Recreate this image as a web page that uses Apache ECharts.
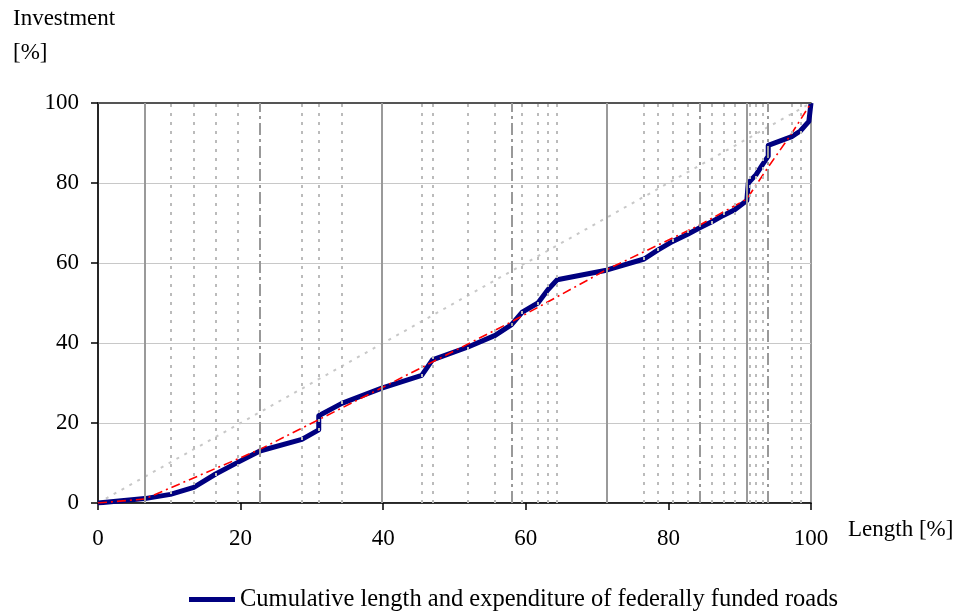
<!DOCTYPE html>
<html>
<head>
<meta charset="utf-8">
<script src="https://cdn.jsdelivr.net/npm/echarts@6/dist/echarts.min.js"></script>
<style>
  html, body { margin: 0; padding: 0; background: #fff; }
  #main { width: 964px; height: 611px; }
</style>
</head>
<body>
<div id="main"></div>
<script>
// cumulative length [%] / investment [%] of the roads (thick blue curve)
var roadLength = [0, 6.55, 10.16, 13.43, 16.5, 19.6, 22.7, 28.6, 30.96, 30.96, 34.2, 39.8,
  45.4, 46.9, 51.9, 55.7, 58.0, 59.5, 61.7, 63.1, 64.4, 71.3, 76.6, 78.5, 80.6, 82.7,
  84.4, 86.1, 87.7, 89.3, 91.0, 91.2, 92.3, 93.2, 94.0, 94.0, 97.3, 98.5, 99.7, 100];
var roadInvest = [0, 1.1, 2.15, 3.9, 7.25, 10.15, 13.0, 15.9, 18.3, 21.8, 24.9, 28.7,
  31.9, 35.8, 39.0, 41.9, 44.6, 47.7, 50.0, 53.3, 55.8, 58.2, 61.0, 63.2, 65.4, 67.2,
  68.8, 70.3, 71.9, 73.3, 75.6, 80.0, 82.1, 84.6, 86.7, 89.4, 91.6, 93.0, 95.4, 100];

// red dash-dot curve
var redLength = [0, 6.55, 22.7, 39.8, 58.0, 71.3, 84.4, 91.0, 94.0, 97.3, 100];
var redInvest = [0, 1.0, 13.4, 28.8, 45.3, 58.3, 69.5, 76.0, 84.0, 92.4, 100];

// equal distribution line
var diagLength = [0, 100];
var diagInvest = [0, 100];

// vertical reference lines (x positions)
var solidLines = [6.55, 39.8, 71.3, 91.0];
var dashDotLines = [22.7, 58.0, 84.4, 94.0];
var dottedLines = [10.16, 13.43, 16.5, 19.6, 28.6, 30.96, 34.2, 45.4, 46.9, 51.9, 55.7,
  59.5, 61.7, 63.1, 64.4, 76.6, 78.5, 80.6, 82.7, 86.1, 87.7, 89.3, 91.4, 92.3, 93.2,
  97.3, 98.5];

var legendName = 'Cumulative length and expenditure of federally funded roads';

function pairs(xs, ys) {
  return xs.map(function (x, i) { return [x, ys[i]]; });
}
function vLines(xs) {
  return xs.map(function (x) { return { xAxis: x }; });
}

var serif = '"Liberation Serif", "DejaVu Serif", serif';
var chart = echarts.init(document.getElementById('main'));

var option = {
  animation: false,
  backgroundColor: '#fff',
  textStyle: { fontFamily: serif, color: '#000' },
  grid: {
    left: 98, right: 153, top: 103, bottom: 108,
    show: true, borderColor: '#999', borderWidth: 2
  },
  legend: {
    data: [{ name: legendName, icon: 'rect' }],
    left: 184, top: 582,
    itemWidth: 46, itemHeight: 5,
    textStyle: { fontFamily: serif, fontSize: 24.5, color: '#000' }
  },
  graphic: [
    { type: 'text', left: 13, top: 2,
      style: { text: 'Investment\n[%]', font: '23px ' + serif, fill: '#000', lineHeight: 34 } },
    { type: 'text', left: 848, top: 518,
      style: { text: 'Length [%]', font: '23px ' + serif, fill: '#000' } }
  ],
  xAxis: {
    type: 'value', min: 0, max: 100, interval: 20,
    axisLine: { onZero: false, lineStyle: { color: '#000', width: 1.5 } },
    axisTick: { length: 7, lineStyle: { color: '#000', width: 1.5 } },
    axisLabel: { fontFamily: serif, fontSize: 23, color: '#000', margin: 24 },
    splitLine: { show: false }
  },
  yAxis: {
    type: 'value', min: 0, max: 100, interval: 20,
    axisLine: { show: true, onZero: false, lineStyle: { color: '#000', width: 1.5 } },
    axisTick: { show: true, length: 7, lineStyle: { color: '#000', width: 1.5 } },
    axisLabel: { fontFamily: serif, fontSize: 23, color: '#000', margin: 19 },
    splitLine: { show: true, lineStyle: { color: '#c8c8c8', width: 1.2 } }
  },
  series: [
    {
      name: 'frame', type: 'line', data: [], silent: true, z: 1,
      markLine: {
        silent: true, symbol: 'none', label: { show: false },
        lineStyle: { color: '#555', width: 2, type: 'solid' },
        data: [{ yAxis: 100 }]
      }
    },
    {
      name: 'solid', type: 'line', data: [], silent: true, z: 1,
      markLine: {
        silent: true, symbol: 'none', label: { show: false },
        lineStyle: { color: '#9a9a9a', width: 2, type: 'solid' },
        data: vLines(solidLines)
      }
    },
    {
      name: 'dashdot', type: 'line', data: [], silent: true, z: 1,
      markLine: {
        silent: true, symbol: 'none', label: { show: false },
        lineStyle: { color: '#999', width: 2, type: [12, 4, 3, 4] },
        data: vLines(dashDotLines)
      }
    },
    {
      name: 'dotted', type: 'line', data: [], silent: true, z: 1,
      markLine: {
        silent: true, symbol: 'none', label: { show: false },
        lineStyle: { color: '#bbb', width: 2, type: [3, 6] },
        data: vLines(dottedLines)
      }
    },
    {
      name: 'diagonal', type: 'line', data: pairs(diagLength, diagInvest),
      showSymbol: false, silent: true, z: 2,
      lineStyle: { color: '#c8c8c8', width: 2, type: [3, 6] }
    },
    {
      name: legendName, type: 'line', data: pairs(roadLength, roadInvest),
      showSymbol: false, z: 3,
      itemStyle: { color: '#000080' },
      lineStyle: { color: '#000080', width: 5, join: 'round' }
    },
    {
      name: 'trend', type: 'line', data: pairs(redLength, redInvest),
      showSymbol: false, silent: true, z: 4,
      lineStyle: { color: '#ff0000', width: 1.6, type: [9, 4, 2, 4] }
    }
  ]
};

chart.setOption(option);
</script>
</body>
</html>
